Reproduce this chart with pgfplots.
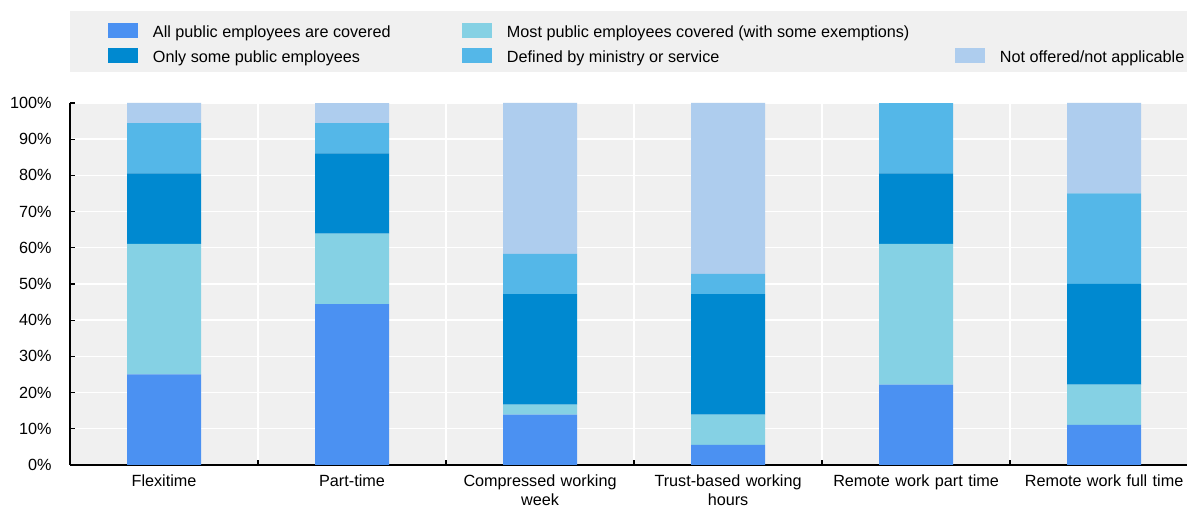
\documentclass[border=0pt]{standalone}
\usepackage{pgfplots}
\pgfplotsset{compat=1.18}
\usepackage{fontspec}
\setmainfont{Liberation Sans}
\definecolor{cAll}{RGB}{75,145,242}
\definecolor{cMost}{RGB}{133,209,228}
\definecolor{cOnly}{RGB}{0,137,208}
\definecolor{cDef}{RGB}{84,183,232}
\definecolor{cNot}{RGB}{174,205,238}
\definecolor{bgGray}{RGB}{240,240,240}
\begin{document}
\begin{tikzpicture}
\fill[bgGray] (0pt,196.5pt) rectangle (558.5pt,227pt);
\begin{axis}[
  at={(0pt,0pt)}, anchor=south west,
  scale only axis, width=558.5pt, height=181pt,
  xmin=-0.5, xmax=5.441, ymin=0, ymax=100,
  ybar stacked, bar width=37pt,
  axis background/.style={fill=bgGray},
  axis x line*=bottom, axis y line*=left,
  axis line style={black, line width=0.7pt, -},
  xtick={0.5,1.5,2.5,3.5,4.5}, xticklabels={,,,,,},
  extra x ticks={0,1,2,3,4,5},
  extra x tick labels={Flexitime,Part-time,Compressed working\\week,Trust-based working\\hours,Remote work part time,Remote work full time},
  extra x tick style={grid=none, major tick length=0pt},
  xmajorgrids, ymajorgrids,
  grid style={white, line width=0.7pt},
  ytick={0,10,...,100},
  yticklabel={\pgfmathprintnumber{\tick}\%},
  /pgf/number format/assume math mode=true,
  tick align=inside, major tick length=2.5pt,
  xtick pos=lower, ytick pos=left,
  tick style={black, line width=0.6pt},
  ticklabel style={font=\fontsize{8.1}{9.5}\selectfont},
  xticklabel style={text width=90pt, align=center, inner sep=0pt, yshift=-4.5pt},
  yticklabel style={inner sep=0pt, xshift=-9pt},
  legend columns=3,
  legend cell align=left,
  legend image code/.code={\fill[#1] (0pt,-3.5pt) rectangle (15pt,4pt);},
  legend style={draw=none, fill=none, at={(axis description cs:0.034,1.2237)}, anchor=north west,
    inner sep=0pt, outer sep=0pt, column sep=0pt, row sep=3.5pt,
    font=\fontsize{8.1}{9.5}\selectfont,
    nodes={inner sep=0pt, text height=7.5pt, text depth=1.5pt}},
]
\addplot[fill=cAll, draw=none, forget plot] coordinates {(0,25) (1,44.44) (2,13.89) (3,5.56) (4,22.22) (5,11.11)};
\addplot[fill=cMost, draw=none, forget plot] coordinates {(0,36.11) (1,19.44) (2,2.78) (3,8.33) (4,38.89) (5,11.11)};
\addplot[fill=cOnly, draw=none, forget plot] coordinates {(0,19.44) (1,22.22) (2,30.56) (3,33.33) (4,19.44) (5,27.78)};
\addplot[fill=cDef, draw=none, forget plot] coordinates {(0,13.89) (1,8.33) (2,11.11) (3,5.56) (4,19.44) (5,25)};
\addplot[fill=cNot, draw=none, forget plot] coordinates {(0,5.56) (1,5.56) (2,41.67) (3,47.22) (4,0) (5,25)};
\addlegendimage{fill=cAll, draw=none}
\addlegendentry{\makebox[162pt][l]{\hspace{7.5pt}All public employees are covered}}
\addlegendimage{fill=cMost, draw=none}
\addlegendentry{\makebox[231.5pt][l]{\hspace{7.5pt}Most public employees covered (with some exemptions)}}
\addlegendimage{empty legend}
\addlegendentry{}
\addlegendimage{fill=cOnly, draw=none}
\addlegendentry{\makebox[162pt][l]{\hspace{7.5pt}Only some public employees}}
\addlegendimage{fill=cDef, draw=none}
\addlegendentry{\makebox[231.5pt][l]{\hspace{7.5pt}Defined by ministry or service}}
\addlegendimage{fill=cNot, draw=none}
\addlegendentry{\hspace{7.5pt}Not offered/not applicable}
\end{axis}
\pgfresetboundingbox
\useasboundingbox (-35pt,-21pt) rectangle (558.5pt,232.5pt);
\end{tikzpicture}
\end{document}
